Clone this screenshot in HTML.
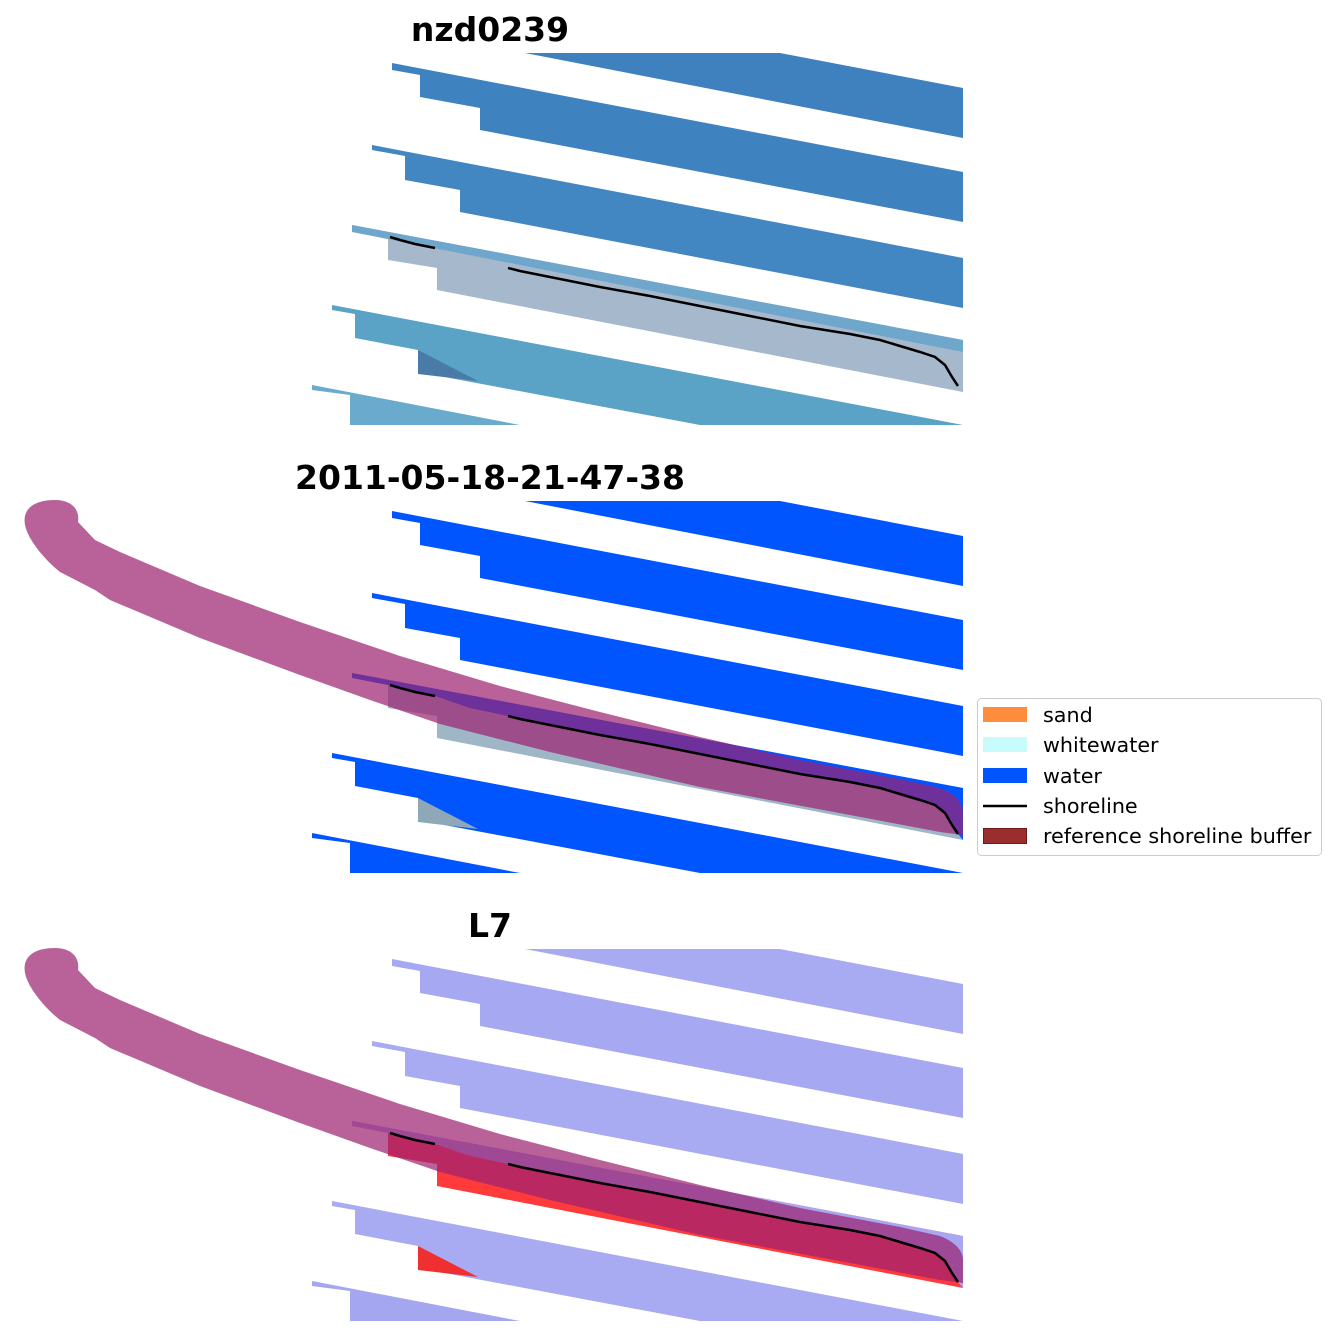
<!DOCTYPE html>
<html><head><meta charset="utf-8"><style>
html,body{margin:0;padding:0;background:#fff;}
svg{display:block;}
text{font-family:"DejaVu Sans","Liberation Sans",sans-serif;}
</style></head><body>
<svg width="1336" height="1337" viewBox="0 0 1336 1337" xmlns="http://www.w3.org/2000/svg">
<defs>
<polygon id="bA" points="525,53 780,53 963,88 963,138"/>
<polygon id="bB" points="392,63 963,172 963,222 480,130 480,108 420,97 420,75 392,70"/>
<polygon id="bC" points="372,145 963,258 963,308 460,212 460,190 405,180 405,156 372,150"/>
<polygon id="bD" points="352,225 963,340 963,392 437,290 437,268 388,260 388,235 352,230"/>
<polygon id="bE" points="332,305 963,425 700,425 418,372 418,350 355,338 355,314 332,310"/>
<polygon id="bF" points="312,385 520,425 350,425 350,395 312,390"/>
<polygon id="dUp" points="352,225 963,340 963,392 958,386 952,377 945,365 935,357 920,352 900,346 880,340 850,334 800,326 750,316 700,306 650,296 600,287 560,279 520,271 508,268 470,260 435,248 415,244 400,240 388,237 352,230"/>
<polygon id="wedge" points="418,350 478,381 418,374"/>
<polyline id="shore1" points="390,237 400,240 415,244 435,248" fill="none" stroke="#000" stroke-width="2.5"/>
<polyline id="shore2" points="508,268 520,271 560,279 600,287 650,296 700,306 750,316 800,326 850,334 880,340 900,346 920,352 935,357 945,365 952,377 958,386" fill="none" stroke="#000" stroke-width="2.5"/>
<path id="buf" d="M25,525 C22,508 35,500 55,500 C72,500 80,510 78,522 L95,540 L120,552 L200,586 L300,622 L400,656 L500,686 L600,712 L700,737 L800,760 L900,779 L940,788 C958,795 963,805 963,812 L963,835 L940,832 L850,815 L700,787 L550,752 L440,724 L370,700 L300,675 L200,638 L110,600 L95,590 L60,572 C45,560 28,540 25,525 Z"/>
</defs>

<!-- Panel 1 -->
<text x="490" y="41" font-size="33" font-weight="bold" text-anchor="middle">nzd0239</text>
<g>
<use href="#bA" fill="#3f80bf"/>
<use href="#bB" fill="#3f82c0"/>
<use href="#bC" fill="#4286c2"/>
<use href="#bD" fill="#a6b8cc"/>
<polygon points="352,225 963,340 963,352 352,232" fill="#6fa6cc"/>
<use href="#bE" fill="#5aa2c6"/>
<use href="#wedge" fill="#4a7aa8"/>
<use href="#bF" fill="#6aaacc"/>
<use href="#shore1"/><use href="#shore2"/>
</g>

<!-- Panel 2 -->
<text x="490" y="489" font-size="33" font-weight="bold" text-anchor="middle">2011-05-18-21-47-38</text>
<g transform="translate(0,448)">
<use href="#bA" fill="#0055ff"/>
<use href="#bB" fill="#0055ff"/>
<use href="#bC" fill="#0055ff"/>
<use href="#bD" fill="#9fb6c6"/>
<use href="#dUp" fill="#0055ff"/>
<use href="#bE" fill="#0055ff"/>
<use href="#wedge" fill="#8fa8b8"/>
<use href="#bF" fill="#0055ff"/>
</g>
<use href="#buf" fill="rgb(156,32,112)" fill-opacity="0.706"/>
<g transform="translate(0,448)">
<use href="#shore1"/><use href="#shore2"/>
</g>

<!-- Panel 3 -->
<text x="490" y="937" font-size="33" font-weight="bold" text-anchor="middle">L7</text>
<g transform="translate(0,896)">
<use href="#bA" fill="#a8aaf2"/>
<use href="#bB" fill="#a6a8f2"/>
<use href="#bC" fill="#a8aaf2"/>
<use href="#bD" fill="#ff3a3a"/>
<use href="#dUp" fill="#a8a8f0"/>
<use href="#bE" fill="#a8aaf2"/>
<use href="#wedge" fill="#f03030"/>
<use href="#bF" fill="#a4a6f0"/>
</g>
<g transform="translate(0,448)">
<use href="#buf" fill="rgb(156,32,112)" fill-opacity="0.706"/>
</g>
<g transform="translate(0,896)">
<use href="#shore1"/><use href="#shore2"/>
</g>

<!-- Legend -->
<rect x="977.5" y="698.5" width="344" height="157" rx="4" fill="#fff" stroke="#cccccc" stroke-width="1"/>
<rect x="983" y="707" width="44" height="15" fill="#ff8c3c"/>
<rect x="983" y="737" width="44" height="15" fill="#c8fcfc"/>
<rect x="983" y="768" width="44" height="15" fill="#0055ff"/>
<line x1="983" y1="806" x2="1027" y2="806" stroke="#000" stroke-width="2.5"/>
<rect x="983.5" y="828.5" width="43" height="15" fill="#9a2e2e" stroke="#701818" stroke-width="1"/>
<g font-size="20.7" fill="#000">
<text x="1043" y="722">sand</text>
<text x="1043" y="752">whitewater</text>
<text x="1043" y="783">water</text>
<text x="1043" y="813">shoreline</text>
<text x="1043" y="843">reference shoreline buffer</text>
</g>
</svg>
</body></html>
